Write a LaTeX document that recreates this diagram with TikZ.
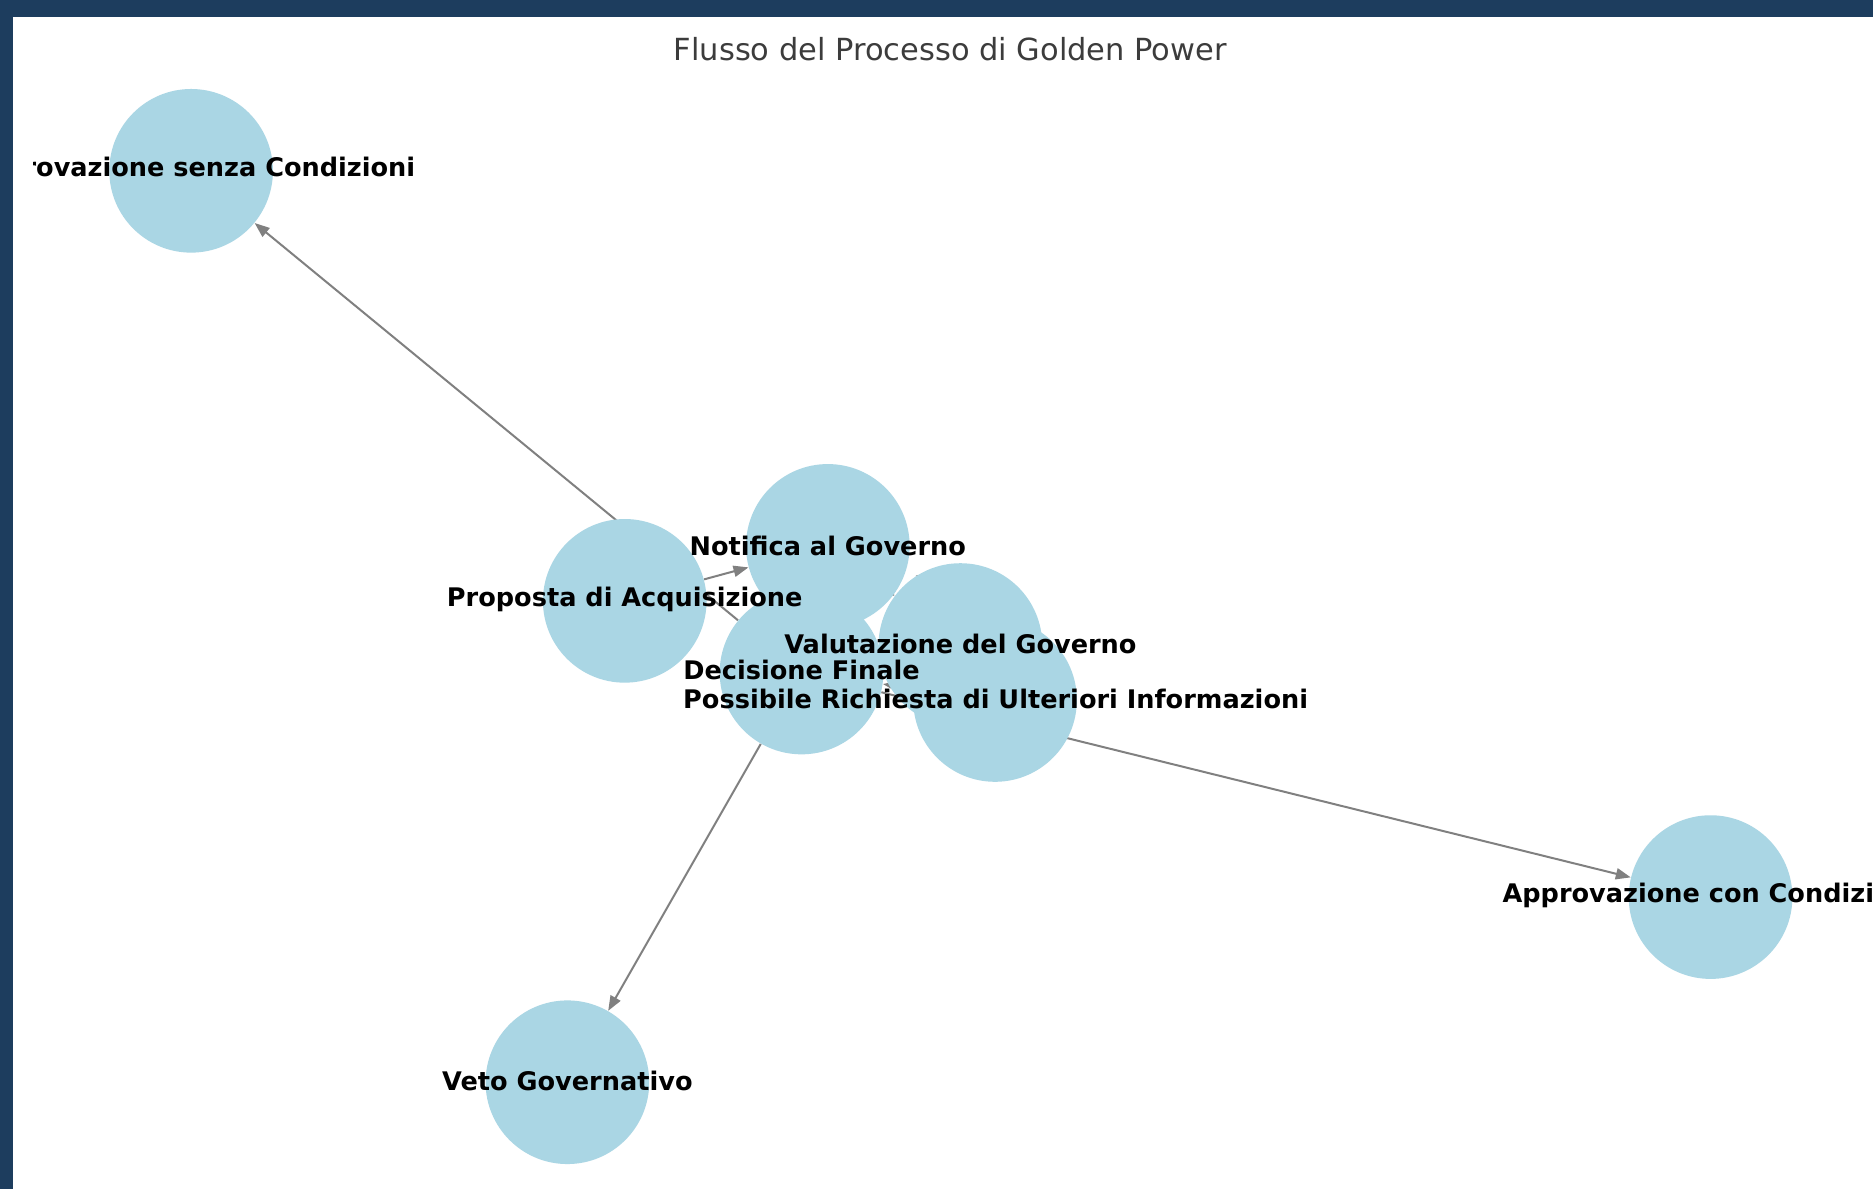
\documentclass[tikz,border=0pt]{standalone}
\usepackage{fontspec}
\setmainfont{DejaVu Sans}
\usetikzlibrary{arrows.meta,backgrounds}

\definecolor{framenavy}{RGB}{29,61,94}
\definecolor{nodeblue}{RGB}{170,214,228}
\definecolor{edgegray}{RGB}{128,128,128}
\definecolor{titlegray}{RGB}{60,60,60}

\begin{document}
\begin{tikzpicture}[
        x=0.6pt, y=-0.6pt,
        % stili comuni
        state/.style={circle, fill=nodeblue, minimum size=82.2pt, inner sep=0pt}, % cerchi dei nodi
        edge/.style={draw=edgegray, line width=1pt,
            -{Triangle[length=7.5pt, width=5.6pt]}}, % archi
        state text/.style={font=\fontsize{12.85}{15}\selectfont\bfseries, inner sep=0pt}, % etichette
        title text/.style={font=\fontsize{15.3}{18}\selectfont, text=titlegray} % titolo
    ]

        % --- cornice ---
        \useasboundingbox (0,0) rectangle (1568,995.4);
        \begin{scope}[on background layer]
            \fill[framenavy] (0,0) rectangle (1568,995.4);
            \fill[white] (10.6,14.5) rectangle (1568,995.4);
        \end{scope}

        % --- titolo ---
        \node[title text] (title) at (795.5,41) {Flusso del Processo di Golden Power};

        % 1. cerchi dei nodi
        \node[state] (proposta) at (523,503) {};
        \node[state] (notifica) at (693,457) {};
        \node[state] (valutazione) at (804,540) {};
        \node[state] (richiesta) at (833,586) {};
        \node[state] (decisione) at (671,563) {};
        \node[state] (senza) at (160,143) {};
        \node[state] (con) at (1432,751) {};
        \node[state] (veto) at (475,906) {};

        % 2. archi (sotto i cerchi)
        \begin{scope}[on background layer]
            \draw[edge] (proposta) -- (notifica);
            \draw[edge] (notifica) -- (valutazione);
            \draw[edge] (valutazione) -- (richiesta);
            \draw[edge] (richiesta) -- (decisione);
            \draw[edge] (decisione) -- (senza);
            \draw[edge] (decisione) -- (con);
            \draw[edge] (decisione) -- (veto);
        \end{scope}

        % 3. etichette (sopra tutti i cerchi, tagliate ai bordi)
        \begin{scope}
            \clip (28,14.5) rectangle (1568,995.4);
            \node[state text] (proposta label) at (523,502) {Proposta di Acquisizione};
            \node[state text] (notifica label) at (693,457) {Notifica al Governo};
            \node[state text] (valutazione label) at (804,539) {Valutazione del Governo};
            \node[state text] (richiesta label) at (833.5,585) {Possibile Richiesta di Ulteriori Informazioni};
            \node[state text] (decisione label) at (671,561) {Decisione Finale};
            \node[state text] (senza label) at (160,142) {Approvazione senza Condizioni};
            \node[state text] (con label) at (1432,750) {Approvazione con Condizioni};
            \node[state text] (veto label) at (475,905) {Veto Governativo};
        \end{scope}

    \end{tikzpicture}
\end{document}
